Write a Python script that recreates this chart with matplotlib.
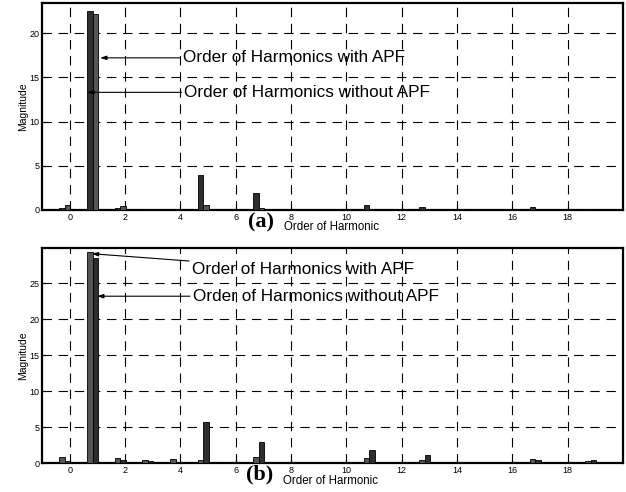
import matplotlib
matplotlib.use("Agg")
import matplotlib.pyplot as plt
import numpy as np

harmonics = list(range(20))
a_without = [0.2, 22.5, 0.25, 0.15, 0.05, 4.0, 0.05, 1.9, 0.02, 0.05,
             0.02, 0.55, 0.02, 0.35, 0.02, 0.1, 0.02, 0.3, 0.02, 0.1]
a_with = [0.6, 22.2, 0.5, 0.15, 0.1, 0.6, 0.1, 0.25, 0.02, 0.02,
          0.02, 0.15, 0.02, 0.1, 0.02, 0.05, 0.05, 0.05, 0.02, 0.05]
b_first = [0.9, 29.3, 0.8, 0.4, 0.55, 0.5, 0.25, 0.85, 0.1, 0.1,
           0.05, 0.8, 0.05, 0.4, 0.1, 0.1, 0.05, 0.65, 0.02, 0.3]
b_second = [0.35, 28.5, 0.4, 0.3, 0.15, 5.8, 0.1, 3.0, 0.02, 0.05,
            0.02, 1.8, 0.02, 1.1, 0.02, 0.05, 0.02, 0.4, 0.02, 0.4]
xticks = [0, 2, 4, 6, 8, 10, 12, 14, 16, 18]
label_with = "Order of Harmonics with APF"
label_without = "Order of Harmonics without APF"

plt.rcParams['font.family'] = ['Liberation Sans', 'DejaVu Sans']

fig = plt.figure(figsize=(6.26, 4.92), dpi=100)
ax1 = fig.add_axes([0.0671, 0.5732, 0.928, 0.4207])
ax2 = fig.add_axes([0.0671, 0.0583, 0.928, 0.437])

x = np.array(harmonics)

def style(ax, ymax, yticks):
    ax.set_xlim(-1, 20)
    ax.set_ylim(0, ymax)
    ax.set_xticks(xticks)
    ax.set_yticks(yticks)
    ax.tick_params(direction='in', length=3, labelsize=6.5, width=0.8, pad=2)
    ax.grid(True, color='black', linestyle=(0, (8.5, 6)), linewidth=0.8)
    ax.set_axisbelow(True)
    for s in ax.spines.values():
        s.set_linewidth(1.6)
    ax.set_ylabel("Magnitude", fontsize=7.5, labelpad=1)

def arrow(ax, text, xy, xytext):
    ax.annotate(text, xy=xy, xytext=xytext, fontsize=12.3, va='center', ha='left',
                arrowprops=dict(arrowstyle='-|>,head_length=0.3,head_width=0.1',
                                color='black', lw=0.8, shrinkA=0, shrinkB=0))

ax1.bar(x - 0.27, a_without, width=0.2, color='#2e2e2e', edgecolor='black', linewidth=0.6, zorder=3)
ax1.bar(x - 0.07, a_with, width=0.2, color='#555555', edgecolor='black', linewidth=0.6, zorder=3)
style(ax1, 23.4, [0, 5, 10, 15, 20])
arrow(ax1, label_with, (1.1, 17.2), (4.1, 17.2))
arrow(ax1, label_without, (0.63, 13.3), (4.15, 13.3))

ax2.bar(x - 0.27, b_first, width=0.2, color='#555555', edgecolor='black', linewidth=0.6, zorder=3)
ax2.bar(x - 0.07, b_second, width=0.2, color='#2e2e2e', edgecolor='black', linewidth=0.6, zorder=3)
style(ax2, 29.85, [0, 5, 10, 15, 20, 25])
arrow(ax2, label_with, (0.8, 29.1), (4.42, 26.9))
arrow(ax2, label_without, (0.99, 23.2), (4.45, 23.2))

# panel labels and x labels
fig.text(248 / 626, 1 - 222 / 492, "(a)", fontsize=16, fontweight='bold', family='Liberation Serif', ha='left', va='center')
fig.text(284 / 626, 1 - 227.5 / 492, "Order of Harmonic", fontsize=8.3, ha='left', va='center')
fig.text(246 / 626, 1 - 474 / 492, "(b)", fontsize=16, fontweight='bold', family='Liberation Serif', ha='left', va='center')
fig.text(283 / 626, 1 - 481.5 / 492, "Order of Harmonic", fontsize=8.3, ha='left', va='center')

fig.savefig("out.png", dpi=100)
